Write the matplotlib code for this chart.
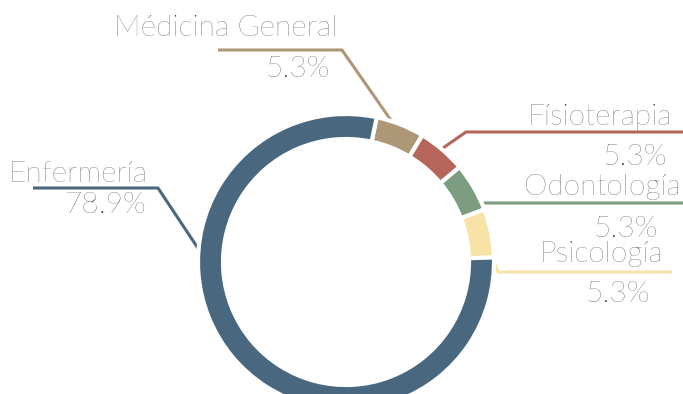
import numpy as np
import matplotlib.pyplot as plt

# Distribución del personal por área
areas = ['Médicina General', 'Físioterapia', 'Odontología', 'Psicología', 'Enfermería']
porcentajes = [5.3, 5.3, 5.3, 5.3, 78.9]
colores = ['#ad9776', '#b5655a', '#7c9d80', '#f7e3a6', '#49677f']

W, H = 683, 394
cx, cy = 346, 394 - 262
r_out, ancho = 148, 25
inicio = 78

fig = plt.figure(figsize=(W / 100, H / 100), dpi=100)
ax = fig.add_axes([0, 0, 1, 1])

wedges, _ = ax.pie(porcentajes, colors=colores, startangle=inicio, counterclock=False,
                   center=(cx, cy), radius=r_out,
                   wedgeprops=dict(width=ancho, edgecolor='white', linewidth=3))
ax.set_xlim(0, W)
ax.set_ylim(0, H)
ax.set_aspect('equal')
ax.axis('off')

# Etiquetas: ángulo de anclaje en el anillo, codo, fin de la línea, posiciones del texto
etiquetas = {
    'Enfermería': dict(ang=176, codo=(158, 188), fin=(33, 188),
                       nombre=(148, 182), valor=(147, 213)),
    'Médicina General': dict(ang=71, codo=(342, 50), fin=(218, 50),
                             nombre=(337, 36), valor=(330, 77)),
    'Físioterapia': dict(ang=50, codo=(466, 132), fin=(683, 132),
                         nombre=(672, 125), valor=(667, 165)),
    'Odontología': dict(ang=23, codo=(472, 203), fin=(683, 203),
                        nombre=(681, 195), valor=(658, 237)),
    'Psicología': dict(ang=2, codo=(498, 272), fin=(672, 272),
                       nombre=(663, 262), valor=(650, 302)),
}

fuente = dict(family=['Lato', 'DejaVu Sans'], fontweight='light', color='#3c3c3c', fontsize=21.5)

for area, pct, color in zip(areas, porcentajes, colores):
    e = etiquetas[area]
    a = np.deg2rad(e['ang'])
    x0 = cx + (r_out - 2) * np.cos(a)
    y0 = cy + (r_out - 2) * np.sin(a)
    xs = [x0, e['codo'][0], e['fin'][0]]
    ys = [y0, H - e['codo'][1], H - e['fin'][1]]
    ax.plot(xs, ys, color=color, linewidth=2.2, solid_capstyle='butt', zorder=0)
    nx, ny = e['nombre']
    ax.text(nx, H - ny, area, ha='right', va='baseline', **fuente)
    vx, vy = e['valor']
    ax.text(vx, H - vy, f'{pct}%', ha='right', va='baseline', **fuente)

fig.savefig('out.png', dpi=100)
